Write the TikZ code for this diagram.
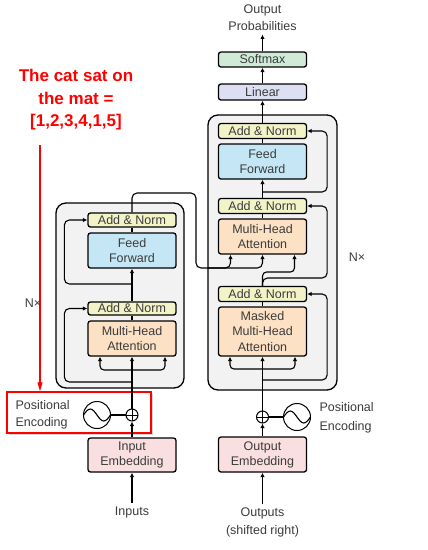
\documentclass[tikz,border=0pt]{standalone}
\usepackage{fontspec}
\setmainfont{Liberation Sans}
\usetikzlibrary{arrows.meta,positioning,calc,shadows}
\definecolor{tfnorm}{HTML}{F2F4C8}
\definecolor{tfff}{HTML}{C5E6F5}
\definecolor{tfattn}{HTML}{FCE1C4}
\definecolor{tfemb}{HTML}{F9DFE0}
\definecolor{tflin}{HTML}{DDE0F2}
\definecolor{tfsoft}{HTML}{CFEBD8}
\definecolor{tfpile}{HTML}{F2F2F2}
\definecolor{tftexte}{HTML}{3C3C3C}
\definecolor{tfrouge}{HTML}{FF0000}

\begin{document}
\begin{tikzpicture}[x=1pt,y=-1pt,
  font=\fontsize{12.5}{15}\selectfont, text=tftexte,
  bloc/.style={draw=black, line width=1.3pt, rounded corners=2.5pt,
    minimum width=88pt, inner sep=0pt, align=center},
  fleche/.style={line width=1.1pt, -{Latex[length=4.5pt,width=4.5pt]}},
  trait/.style={line width=1.1pt},
  pile/.style={draw=black, fill=tfpile, line width=1.3pt, rounded corners=10pt},
  somme/.style={draw, circle, line width=1pt, minimum size=12pt, inner sep=0pt,
    fill=white, path picture={\draw[line width=0.9pt]
      (path picture bounding box.north) -- (path picture bounding box.south)
      (path picture bounding box.west) -- (path picture bounding box.east);}},
  onde/.style={draw, circle, line width=1pt, minimum size=27pt, inner sep=0pt}]
  \useasboundingbox (0,0) rectangle (428,550);
  \fill[white] (0,0) rectangle (428,550);

  % annotation en rouge
  \node[draw=tfrouge, line width=1.5pt, fill=white, minimum width=144pt, minimum height=41pt,
    inner sep=0pt, drop shadow={shadow xshift=2pt, shadow yshift=-2pt, opacity=0.35}]
    (peBox) at (79,412.5) {};
  \node[align=center, text=tfrouge, font=\bfseries\fontsize{17}{22.5}\selectfont]
    (phrase) at (76,100) {The cat sat on\\the mat =\\ {[1,2,3,4,1,5]}};
  \coordinate (flecheHaut) at (40,145);
  \draw[tfrouge, line width=1.3pt, -{Triangle[length=9pt,width=5pt]}]
    (flecheHaut) -- (flecheHaut |- peBox.north);

  % piles N fois
  \draw[pile] (56,203) rectangle (184,388);
  \draw[pile] (208,115) rectangle (337,390);
  \node (encN) at (33,303) {N×};
  \node (decN) at (357,257) {N×};

  % encodeur
  \node[bloc, fill=tfnorm, minimum height=14pt] (encAN2) at (132,220) {Add \& Norm};
  \node[bloc, fill=tfff, minimum height=35pt] (encFF) at (132,250.5) {Feed\\Forward};
  \node[bloc, fill=tfnorm, minimum height=13pt] (encAN1) at (132,308.5) {Add \& Norm};
  \node[bloc, fill=tfattn, minimum height=35pt] (encMHA) at (132,338.5) {Multi-Head\\Attention};
  \node[bloc, fill=tfemb, minimum height=34pt] (encEmb) at (132,455) {Input\\Embedding};
  \node[somme] (encPlus) at (132,415) {};
  \node[onde] (encPE) at (97,415) {};
  \draw[trait] ([xshift=-13.5pt]encPE.center) sin ++(6.75,-6) cos ++(6.75,6)
    sin ++(6.75,6) cos ++(6.75,-6);
  \node[anchor=west, align=left, font=\fontsize{12.5}{17}\selectfont] (encPEtxt) at (12,414.5)
    {Positional\\Encoding};
  \node (entrees) at (132,512) {Inputs};

  % decodeur
  \node[bloc, fill=tfnorm, minimum height=15pt] (decAN3) at (262.5,131) {Add \& Norm};
  \node[bloc, fill=tfff, minimum height=35pt] (decFF) at (262.5,161.5) {Feed\\Forward};
  \node[bloc, fill=tfnorm, minimum height=15pt] (decAN2) at (262.5,206) {Add \& Norm};
  \node[bloc, fill=tfattn, minimum height=35pt] (decMHA2) at (262.5,236.5) {Multi-Head\\Attention};
  \node[bloc, fill=tfnorm, minimum height=15pt] (decAN1) at (262.5,294) {Add \& Norm};
  \node[bloc, fill=tfattn, minimum height=49pt, font=\fontsize{12.5}{15.5}\selectfont]
    (decMHA1) at (262.5,331.5) {Masked\\Multi-Head\\Attention};
  \node[bloc, fill=tfemb, minimum height=35pt] (decEmb) at (262.5,454.5) {Output\\Embedding};
  \node[somme] (decPlus) at (262.5,417) {};
  \node[onde] (decPE) at (297,417) {};
  \draw[trait] ([xshift=-13.5pt]decPE.center) sin ++(6.75,-6) cos ++(6.75,6)
    sin ++(6.75,6) cos ++(6.75,-6);
  \node[anchor=west, align=left, font=\fontsize{12.5}{18.5}\selectfont] (decPEtxt) at (316,418)
    {Positional\\Encoding};
  \node[align=center, font=\fontsize{12.5}{18}\selectfont] (sorties) at (262.5,522)
    {Outputs\\(shifted right)};
  \node[bloc, fill=tflin, minimum height=16pt] (lineaire) at (262.5,92) {Linear};
  \node[bloc, fill=tfsoft, minimum height=15pt] (softmax) at (262.5,59.5) {Softmax};
  \node[align=center, font=\fontsize{12.5}{17}\selectfont] (sortieProb) at (262.5,18)
    {Output\\Probabilities};

  % liaisons encodeur
  \draw[fleche] (entrees) -- (encEmb);
  \draw[fleche] (encEmb) -- (encPlus);
  \draw[trait] (encPE) -- (encPlus);
  \draw[fleche] (encPlus) -- (encMHA);
  \coordinate (encFourche) at (132,370);
  \draw[fleche, rounded corners=4pt] (encFourche) -| ([xshift=-32pt]encMHA.south);
  \draw[fleche, rounded corners=4pt] (encFourche) -| ([xshift=33pt]encMHA.south);
  \coordinate (encRes1) at (132,382);
  \draw[fleche, rounded corners=5pt] (encRes1) -| ([xshift=-23pt]encAN1.west) -- (encAN1.west);
  \draw[trait] (encMHA) -- (encAN1);
  \draw[fleche] (encAN1) -- (encFF);
  \coordinate (encRes2) at (132,284);
  \draw[fleche, rounded corners=5pt] (encRes2) -| ([xshift=-23pt]encAN2.west) -- (encAN2.west);
  \draw[trait] (encFF) -- (encAN2);
  % sortie encodeur vers decodeur
  \coordinate (encSortie) at (196,193);
  \coordinate (croise) at (196,268);
  \draw[fleche, rounded corners=5pt] (encAN2.north) |- (encSortie) -- (croise)
    -| ([xshift=-32pt]decMHA2.south);
  \draw[fleche, rounded corners=5pt] ([xshift=12pt]croise) -| (decMHA2.south);

  % liaisons decodeur
  \draw[fleche] (sorties) -- (decEmb);
  \draw[fleche] (decEmb) -- (decPlus);
  \draw[trait] (decPlus) -- (decPE);
  \draw[fleche] (decPlus) -- (decMHA1);
  \coordinate (decFourche) at (262.5,369);
  \draw[fleche, rounded corners=4pt] (decFourche) -| ([xshift=-32.5pt]decMHA1.south);
  \draw[fleche, rounded corners=4pt] (decFourche) -| ([xshift=32.5pt]decMHA1.south);
  \coordinate (decRes1) at (262.5,380);
  \draw[fleche, rounded corners=5pt] (decRes1) -| ([xshift=20pt]decAN1.east) -- (decAN1.east);
  \draw[trait] (decMHA1) -- (decAN1);
  \draw[fleche, rounded corners=4pt] (decAN1.north) -- (262.5,272)
    -| ([xshift=32pt]decMHA2.south);
  \draw[fleche, rounded corners=5pt] (decAN1.north) -- (262.5,278)
    -| ([xshift=20pt]decAN2.east) -- (decAN2.east);
  \draw[trait] (decMHA2) -- (decAN2);
  \draw[fleche] (decAN2) -- (decFF);
  \coordinate (decRes3) at (262.5,192);
  \draw[fleche, rounded corners=5pt] (decRes3) -| ([xshift=20pt]decAN3.east) -- (decAN3.east);
  \draw[trait] (decFF) -- (decAN3);
  \draw[fleche] (decAN3) -- (lineaire);
  \draw[fleche] (lineaire) -- (softmax);
  \draw[fleche] (softmax) -- (sortieProb);
\end{tikzpicture}
\end{document}
